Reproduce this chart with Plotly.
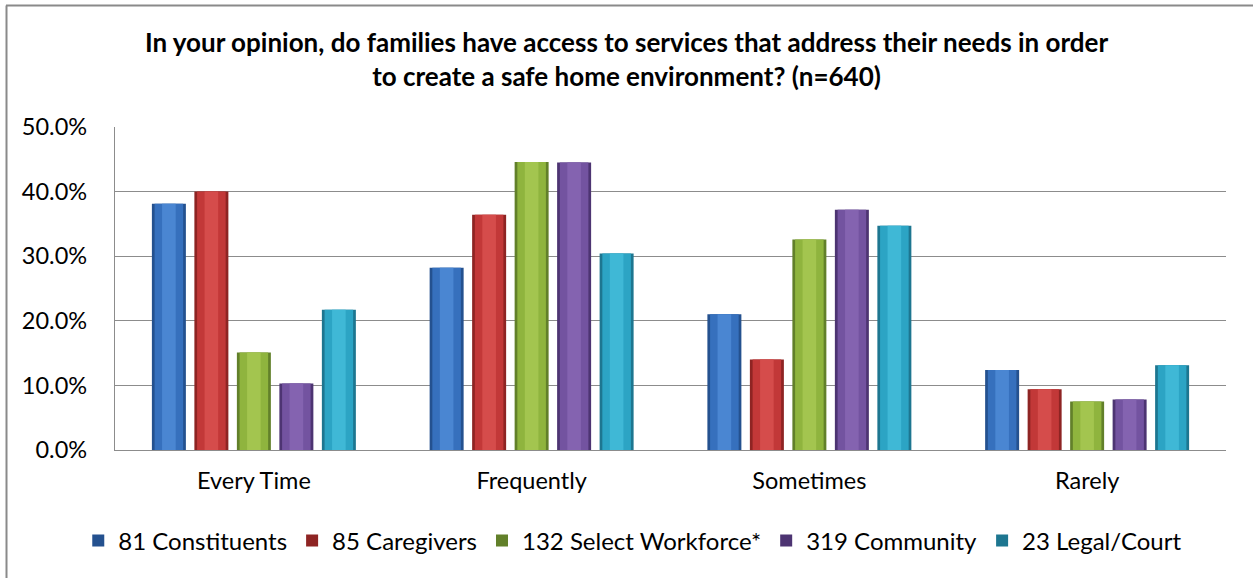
import plotly.graph_objects as go

# Survey data: share of respondents per answer, by respondent group
categories = ["Every Time", "Frequently", "Sometimes", "Rarely"]
series_names = [
    "81 Constituents",
    "85 Caregivers",
    "132 Select Workforce*",
    "319 Community",
    "23 Legal/Court",
]
constituents = [0.381, 0.282, 0.210, 0.124]
caregivers = [0.400, 0.364, 0.140, 0.094]
select_workforce = [0.151, 0.446, 0.326, 0.075]
community = [0.103, 0.445, 0.372, 0.078]
legal_court = [0.217, 0.304, 0.347, 0.131]
series_values = [constituents, caregivers, select_workforce, community, legal_court]

# (edge, body, highlight) shades per series for a rounded bar look
shades = [
    ("#24518f", "#3670bd", "#4a86d2"),
    ("#8e2423", "#c23838", "#d54c4b"),
    ("#62802a", "#8fb43e", "#a3c54f"),
    ("#4d3472", "#7353a0", "#8463b0"),
    ("#1d7690", "#2ca4c4", "#3fb8d6"),
]

n = len(series_names)
slot = 0.153           # space taken by one bar in a group (category units)
bar_w = 0.1224         # bar width (category units)
group_start = -slot * n / 2

FONT = "Lato, Carlito, Calibri, sans-serif"

fig = go.Figure()
for i, (name, vals, (edge, body, hi)) in enumerate(zip(series_names, series_values, shades)):
    left = group_start + i * slot + (slot - bar_w) / 2
    layers = [
        (bar_w, edge, True),
        (bar_w * 0.84, body, False),
        (bar_w * 0.40, hi, False),
    ]
    for w, col, show in layers:
        fig.add_trace(go.Bar(
            x=categories, y=vals, name=name,
            width=w, offset=left + (bar_w - w) / 2,
            marker=dict(color=col, line=dict(width=0)),
            showlegend=show, legendgroup=name,
            hoverinfo="skip" if not show else None,
        ))

fig.update_layout(
    width=1253, height=578,
    barmode="overlay",
    paper_bgcolor="white", plot_bgcolor="white",
    margin=dict(l=115, r=27, t=127, b=128),
    font=dict(family=FONT, size=19, color="#000"),
    title=dict(
        text="In your opinion, do families have access to services that address their needs in order"
             "<br>to create a safe home environment? (n=640)",
        x=0.5, xref="container", xanchor="center",
        y=1 - 52 / 578, yref="container", yanchor="middle",
        font=dict(family=FONT, size=26, color="#000", weight="bold"),
    ),
    legend=dict(
        orientation="h", xref="container", yref="container",
        x=0.505, xanchor="center", y=1 - 541 / 578, yanchor="middle",
        font=dict(family=FONT, size=24), traceorder="normal", itemwidth=30,
    ),
    showlegend=True,
)

fig.update_yaxes(
    range=[0, 0.5], dtick=0.1, tickformat=".1%",
    tickfont=dict(family=FONT, size=23.5),
    showgrid=True, gridcolor="#8c8c8c", gridwidth=1.3,
    showline=True, linecolor="#8c8c8c", linewidth=1.3,
    ticks="", ticklabelstandoff=22, zeroline=False,
)
fig.update_xaxes(
    tickfont=dict(family=FONT, size=23.5),
    showline=True, linecolor="#8c8c8c", linewidth=1.3, mirror=False,
    ticks="", ticklabelstandoff=10,
)

# Chart frame (left and top edges)
fig.add_shape(type="line", xref="paper", yref="paper",
              x0=(6.5 - 115) / 1111, x1=(6.5 - 115) / 1111,
              y0=(450 - 5.5) / 323, y1=(450 - 600) / 323,
              line=dict(color="#8a8a8a", width=2))
fig.add_shape(type="line", xref="paper", yref="paper",
              x0=(6 - 115) / 1111, x1=(1260 - 115) / 1111,
              y0=(450 - 5.5) / 323, y1=(450 - 5.5) / 323,
              line=dict(color="#8a8a8a", width=2))

fig.write_html("out.html")
